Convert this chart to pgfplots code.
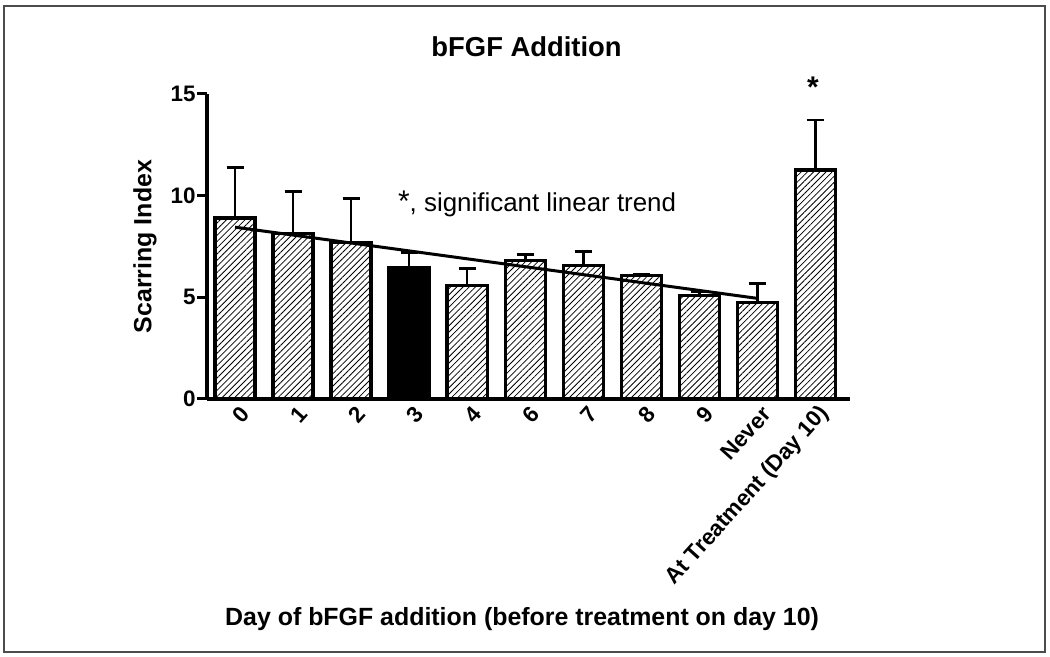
\documentclass[border=0pt]{standalone}
\usepackage{fontspec}
\setmainfont{Liberation Sans}
\usepackage{pgfplots}
\pgfplotsset{compat=1.18}
\usetikzlibrary{patterns.meta}
\pgfplotstableread{
x y e
0 8.9 2.5
1 8.15 2.05
2 7.7 2.17
4 5.6 0.8
5 6.8 0.3
6 6.56 0.7
7 6.08 0.07
8 5.08 0.2
9 4.75 0.94
10 11.26 2.46
}\hatched
\pgfplotstableread{
x y e
3 6.46 0.74
}\solid
\begin{document}
\begin{tikzpicture}[x=1bp,y=1bp]
\useasboundingbox (0,0) rectangle (1050,657);
\draw[black!70, line width=2bp] (4,5) rectangle (1045,651);
\begin{axis}[
  at={(207bp,258bp)}, anchor=south west,
  scale only axis, width=643bp, height=305bp,
  xmin=-0.483, xmax=10.6, ymin=0, ymax=15,
  axis x line=bottom, axis y line=left,
  axis line style={-, line width=3.6bp},
  xtick={0,1,2,3,4,5,6,7,8,9,10},
  xticklabels={0,1,2,3,4,6,7,8,9,Never,At Treatment (Day 10)},
  x tick style={draw=none},
  ytick={0,5,10,15},
  y tick style={line width=3bp, black},
  major tick length=10bp,
  tick align=outside,
  /pgf/number format/assume math mode=true,
  ticklabel style={font=\bfseries\fontsize{22.5}{24}\selectfont},
  xticklabel style={rotate=48, anchor=east, xshift=9bp, yshift=-8bp},
  yticklabel style={xshift=2bp},
  title={bFGF Addition},
  title style={font=\bfseries\fontsize{27.5}{30}\selectfont, at={(axis description cs:0.497,1.135)}, anchor=center},
  ylabel={Scarring Index},
  ylabel style={font=\bfseries\fontsize{25}{28}\selectfont, at={(axis description cs:-0.0964,0.5)}, anchor=center, rotate=0},
  xlabel={Day of bFGF addition (before treatment on day 10)},
  xlabel style={font=\bfseries\fontsize{25}{28}\selectfont, at={(axis description cs:0.49,-0.72)}, anchor=center},
  clip=false,
  bar width=0.69,
]
\addplot[ybar, bar shift=0pt, draw=black, line width=3.2bp,
  pattern={Lines[angle=45,distance=4.4pt,line width=0.8pt]},
  error bars/.cd, y dir=plus, y explicit,
  error bar style={line width=2.8bp, black},
  error mark options={rotate=90, line width=2.8bp, mark size=8.5bp, black}]
  table[x=x, y=y, y error=e] {\hatched};
\addplot[ybar, bar shift=0pt, draw=black, fill=black, line width=3.2bp,
  error bars/.cd, y dir=plus, y explicit,
  error bar style={line width=2.8bp, black},
  error mark options={rotate=90, line width=2.8bp, mark size=8.5bp, black}]
  table[x=x, y=y, y error=e] {\solid};
\addplot[line width=3bp, black] coordinates {(0,8.45) (9,4.95)};
\node[font=\bfseries\fontsize{30}{32}\selectfont, anchor=center] at (axis cs:9.96,15.35) {*};
\node[font=\fontsize{26}{28}\selectfont, anchor=base west] at (axis cs:2.75,9.2) {{\fontsize{30}{30}\selectfont *}, significant linear trend};
\end{axis}
\end{tikzpicture}
\end{document}
